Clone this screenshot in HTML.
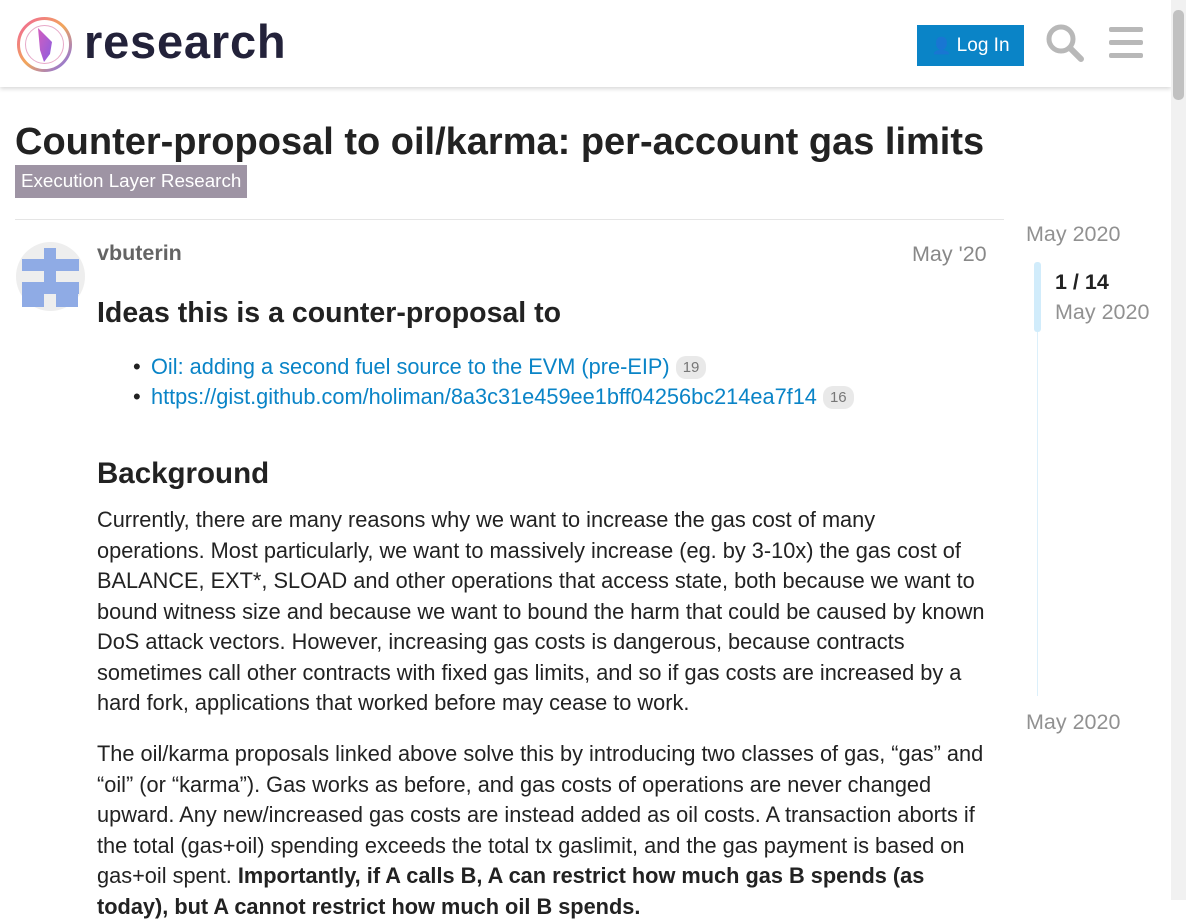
<!DOCTYPE html>
<html><head><meta charset="utf-8"><style>
*{box-sizing:border-box;margin:0;padding:0}
body{width:1186px;height:900px;overflow:hidden;background:#fff;font-family:"Liberation Sans",sans-serif;color:#222;position:relative}
.a{position:absolute;white-space:nowrap}
.p{position:absolute;left:97px;width:1000px;font-size:21.75px;line-height:30.5px;color:#222;white-space:nowrap}
a{color:#0a84c7;text-decoration:none}
.badge{display:inline-block;background:#e9e9e9;color:#777;font-size:15px;border-radius:10px;padding:2px 7px;line-height:19px;vertical-align:2px}
</style></head><body>
<div class="a" style="left:0;top:0;width:1171px;height:87px;background:#fff;box-shadow:0 2px 4px rgba(0,0,0,.15)"></div>
<svg class="a" style="left:16px;top:16px" width="57" height="57" viewBox="0 0 57 57">
<defs><linearGradient id="g" x1="0" y1="0" x2="1" y2="1"><stop offset="0" stop-color="#f0649a"/><stop offset=".5" stop-color="#f2a65a"/><stop offset="1" stop-color="#7d6cf2"/></linearGradient>
<linearGradient id="g2" x1="0" y1="0" x2="1" y2="1"><stop offset="0" stop-color="#d35fbf"/><stop offset="1" stop-color="#8a5ce0"/></linearGradient></defs>
<circle cx="28.5" cy="28.5" r="26" fill="none" stroke="url(#g)" stroke-width="3"/>
<circle cx="28.5" cy="28.5" r="19" fill="none" stroke="#e7a9c8" stroke-width="1"/>
<path d="M22 12 L36 26 L34 38 L28 46 L24 34 Z" fill="url(#g2)"/>
</svg>
<div class="a" style="left:84px;top:14px;font-size:47px;font-weight:bold;color:#23223a;letter-spacing:0.8px">research</div>
<div class="a" style="left:917px;top:25px;width:107px;height:41px;background:#0a84c7;color:#fff;font-size:19px;line-height:41px;text-align:center"><span style="font-size:16px">&#128100;</span> Log In</div>
<svg class="a" style="left:1045px;top:23px" width="40" height="40" viewBox="0 0 40 40"><circle cx="16" cy="16" r="12" fill="none" stroke="#b8b8b8" stroke-width="5"/><line x1="25" y1="25" x2="36" y2="36" stroke="#b8b8b8" stroke-width="6" stroke-linecap="round"/></svg>
<div class="a" style="left:1109px;top:27px;width:34px;height:32px">
<div style="height:5px;background:#b8b8b8;margin-bottom:8px;border-radius:2px"></div><div style="height:5px;background:#b8b8b8;margin-bottom:8px;border-radius:2px"></div><div style="height:5px;background:#b8b8b8;border-radius:2px"></div></div>
<div class="a" style="left:1171px;top:0;width:15px;height:900px;background:#f1f1f1"><div style="margin:10px 2px;height:90px;background:#c1c1c1;border-radius:5px"></div></div>

<div class="a" style="left:15px;top:121px;font-size:38px;font-weight:bold;color:#222">Counter-proposal to oil/karma: per-account gas limits</div>
<div class="a" style="left:15px;top:165px;height:33px;padding:0 6px;background:#9e94a4;color:#fff;font-size:18.8px;line-height:31px">Execution Layer Research</div>
<div class="a" style="left:15px;top:219px;width:989px;height:1px;background:#e5e5e5"></div>

<svg class="a" style="left:16px;top:242px" width="69" height="69" viewBox="0 0 69 69"><circle cx="34.5" cy="34.5" r="34.5" fill="#eee"/><g fill="#8fabe5"><rect x="28" y="6" width="12" height="56"/><rect x="6" y="17" width="57" height="12"/><rect x="6" y="40" width="57" height="12"/><rect x="6" y="40" width="22" height="25"/><rect x="40" y="40" width="22" height="25"/></g><rect x="28" y="52" width="12" height="12" fill="#eee"/></svg>
<div class="a" style="left:97px;top:241px;font-size:21.5px;font-weight:bold;color:#646464">vbuterin</div>
<div class="a" style="left:912px;top:242px;font-size:21.5px;color:#888">May '20</div>
<div class="a" style="left:97px;top:297px;font-size:28.5px;font-weight:bold">Ideas this is a counter-proposal to</div>
<div class="a" style="left:133px;top:354px;font-size:22px">•</div>
<div class="a" style="left:151px;top:354px;font-size:21.75px"><a>Oil: adding a second fuel source to the EVM (pre-EIP)</a> <span class="badge">19</span></div>
<div class="a" style="left:133px;top:384px;font-size:22px">•</div>
<div class="a" style="left:151px;top:384px;font-size:21.75px"><a>https://gist.github.com/holiman/8a3c31e459ee1bff04256bc214ea7f14</a> <span class="badge">16</span></div>
<div class="a" style="left:97px;top:457px;font-size:29.5px;font-weight:bold">Background</div>
<div class="p" style="top:505px">Currently, there are many reasons why we want to increase the gas cost of many<br>operations. Most particularly, we want to massively increase (eg. by 3-10x) the gas cost of<br>BALANCE, EXT*, SLOAD and other operations that access state, both because we want to<br>bound witness size and because we want to bound the harm that could be caused by known<br>DoS attack vectors. However, increasing gas costs is dangerous, because contracts<br>sometimes call other contracts with fixed gas limits, and so if gas costs are increased by a<br>hard fork, applications that worked before may cease to work.</div>
<div class="p" style="top:739px">The oil/karma proposals linked above solve this by introducing two classes of gas, “gas” and<br>“oil” (or “karma”). Gas works as before, and gas costs of operations are never changed<br>upward. Any new/increased gas costs are instead added as oil costs. A transaction aborts if<br>the total (gas+oil) spending exceeds the total tx gaslimit, and the gas payment is based on<br>gas+oil spent. <b>Importantly, if A calls B, A can restrict how much gas B spends (as<br>today), but A cannot restrict how much oil B spends.</b></div>

<div class="a" style="left:1026px;top:222px;font-size:21.5px;color:#919191">May 2020</div>
<div class="a" style="left:1037px;top:262px;width:1px;height:434px;background:#dcf0fb"></div>
<div class="a" style="left:1034px;top:262px;width:7px;height:70px;background:#d1ecfb;border-radius:3px"></div>
<div class="a" style="left:1055px;top:270px;font-size:21.5px;font-weight:bold;color:#222">1 / 14</div>
<div class="a" style="left:1055px;top:300px;font-size:21.5px;color:#919191">May 2020</div>
<div class="a" style="left:1026px;top:710px;font-size:21.5px;color:#919191">May 2020</div>
</body></html>
